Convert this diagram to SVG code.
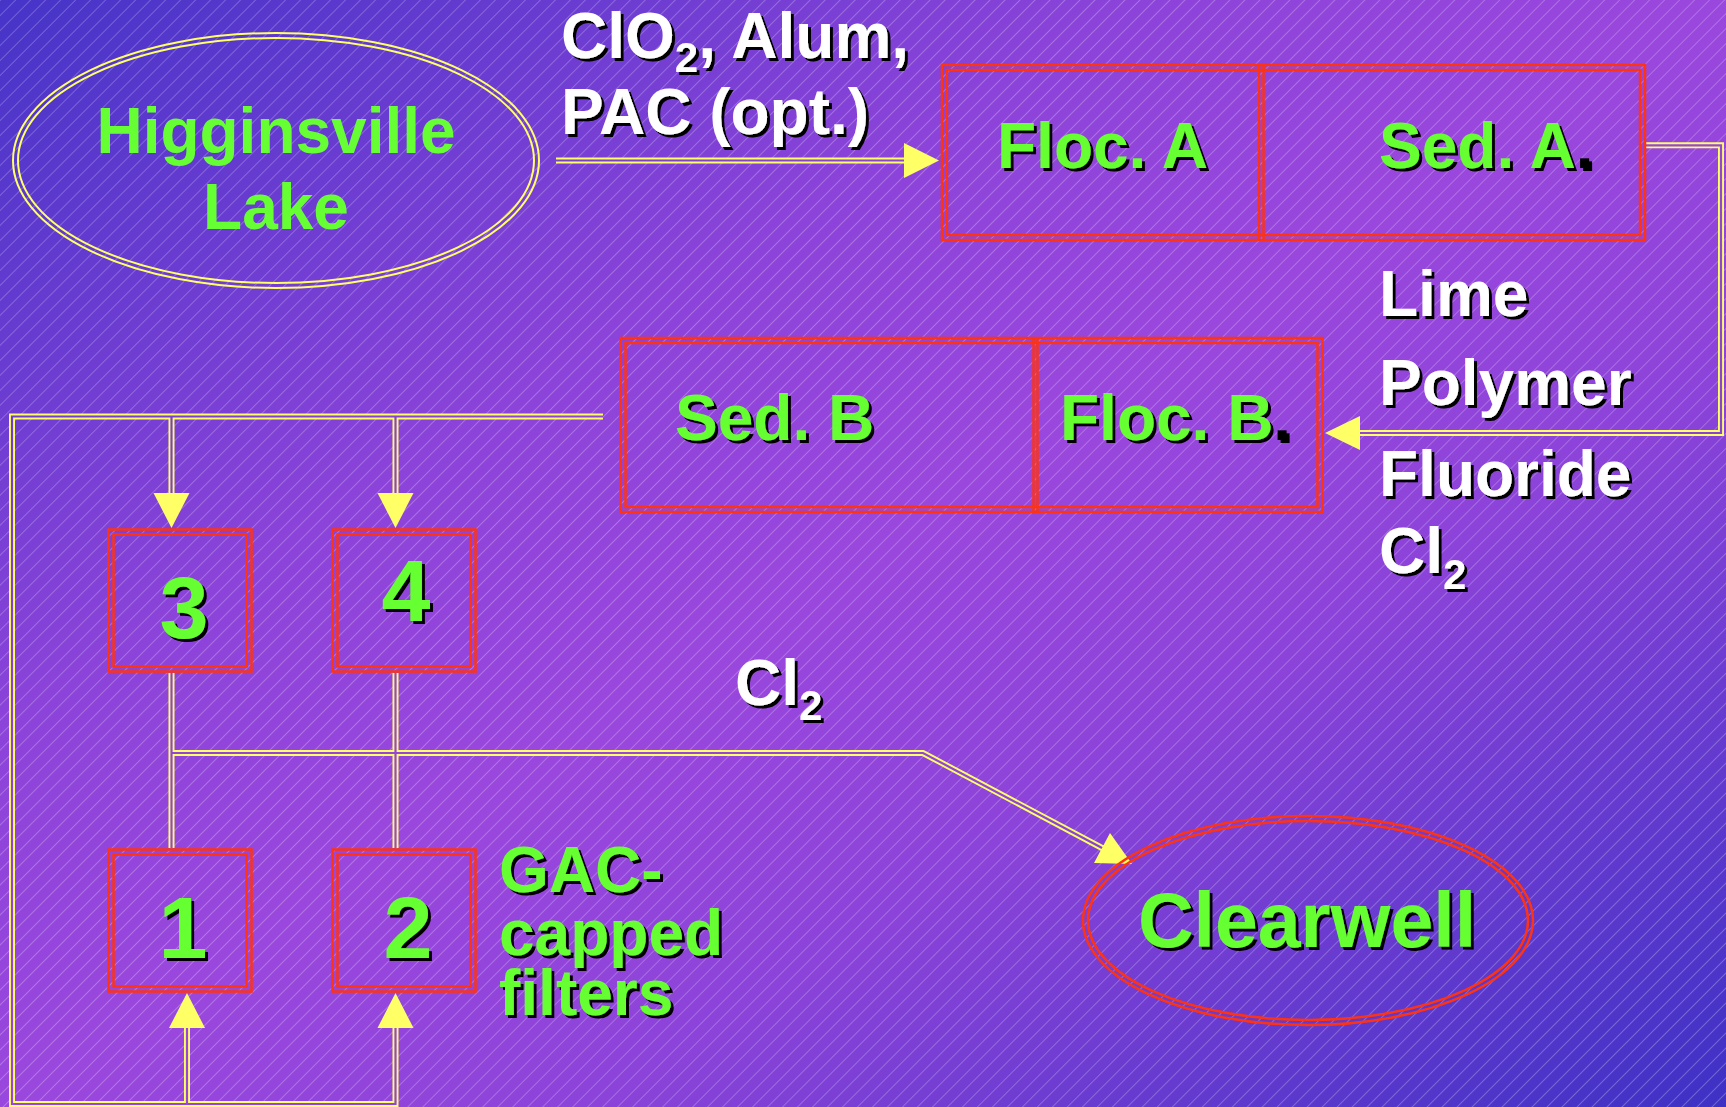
<svg xmlns="http://www.w3.org/2000/svg" width="1726" height="1107" viewBox="0 0 1726 1107">
<defs>
  <linearGradient id="bg" gradientUnits="userSpaceOnUse" x1="360" y1="-231" x2="1366" y2="1338">
    <stop offset="0" stop-color="#4634c8"/>
    <stop offset="0.33" stop-color="#8c43d9"/>
    <stop offset="0.5" stop-color="#9a47dd"/>
    <stop offset="0.67" stop-color="#8c43d9"/>
    <stop offset="1" stop-color="#3d31c4"/>
  </linearGradient>
  <pattern id="st" width="10.6" height="20" patternUnits="userSpaceOnUse" patternTransform="rotate(45)">
    <line x1="0.5" y1="0" x2="0.5" y2="20" stroke="#ffffff" stroke-opacity="0.28" stroke-width="0.9"/>
  </pattern>
  <filter id="sh" x="-10%" y="-20%" width="130%" height="150%">
    <feOffset in="SourceAlpha" dx="3" dy="3" result="o"/>
    <feMerge><feMergeNode in="o"/><feMergeNode in="SourceGraphic"/></feMerge>
  </filter>
  <path id="p1" d="M556,160.5 H905"/>
  <path id="p2" d="M1646,145.3 H1721 V433 H1360"/>
  <path id="p3" d="M603,416.5 H12 V1104 H395.5 V1028 M171.5,416.5 V494 M395.5,416.5 V494 M187,1104 V1028"/>
  <path id="p4" d="M171.5,673 V848 M395.5,673 V848 M171.5,753 H923 L1103,848.5"/>
</defs>
<style>
  .lbl{font-family:"Liberation Sans",Arial,sans-serif;font-weight:bold;font-size:64px}
  .w{fill:#ffffff;filter:url(#sh)}
  .g{fill:#66ff33;filter:url(#sh)}
  .gn{fill:#66ff33}
  .num{font-size:88px;text-anchor:middle}
  .big{font-size:77px;text-anchor:middle}
  .r{fill:none;stroke:#ff3311;stroke-width:2.5}
  .ye{fill:none;stroke:#ffff66;stroke-width:2}
  .y{fill:none;stroke:#ffff66;stroke-width:6;stroke-linejoin:miter}
  .gap{fill:none;stroke:url(#bg);stroke-width:2.2;stroke-linejoin:miter}
  .ah{fill:#ffff66}
</style>
<rect width="1726" height="1107" fill="url(#bg)"/>
<rect width="1726" height="1107" fill="url(#st)"/>

<g id="connectors">
  <use href="#p1" class="y"/>
  <use href="#p2" class="y"/>
  <use href="#p3" class="y"/>
  <use href="#p4" class="y"/>
  <use href="#p1" class="gap"/>
  <use href="#p2" class="gap"/>
  <use href="#p3" class="gap"/>
  <use href="#p4" class="gap"/>
  <polygon class="ah" points="904,143 939,160.5 904,178"/>
  <polygon class="ah" points="1360,416 1325,433 1360,450"/>
  <polygon class="ah" points="153.5,493 171.5,528 189.5,493"/>
  <polygon class="ah" points="377.5,493 395.5,528 413.5,493"/>
  <polygon class="ah" points="169,1028 187,993 205,1028"/>
  <polygon class="ah" points="377.5,1028 395.5,993 413.5,1028"/>
  <polygon class="ah" points="1094,863 1110,833 1132,864"/>
</g>

<g id="lake">
  <ellipse class="ye" cx="276" cy="160.5" rx="263" ry="127.5"/>
  <ellipse class="ye" cx="276" cy="160.5" rx="258" ry="122.5"/>
  <text class="lbl gn" x="276" y="153" text-anchor="middle">Higginsville</text>
  <text class="lbl gn" x="276" y="229" text-anchor="middle">Lake</text>
</g>

<g id="tankA">
  <rect class="r" x="942" y="65" width="703" height="175"/>
  <rect class="r" x="947" y="70" width="693" height="165"/>
  <line class="r" x1="1259" y1="65" x2="1259" y2="240"/>
  <line class="r" x1="1263.5" y1="65" x2="1263.5" y2="240"/>
  <text class="lbl g" x="997" y="168">Floc. A</text>
  <text class="lbl g" x="1379" y="168">Sed. A<tspan fill="#000000">.</tspan></text>
</g>

<g id="tankB">
  <rect class="r" x="620.5" y="338" width="702" height="174"/>
  <rect class="r" x="625.5" y="343" width="692" height="164"/>
  <line class="r" x1="1033.5" y1="338" x2="1033.5" y2="512"/>
  <line class="r" x1="1037.5" y1="338" x2="1037.5" y2="512"/>
  <text class="lbl g" x="675" y="440">Sed. B</text>
  <text class="lbl g" x="1060" y="440">Floc. B<tspan fill="#000000">.</tspan></text>
</g>

<g id="filter3">
  <rect class="r" x="108.5" y="529.5" width="143" height="142"/>
  <rect class="r" x="113.5" y="534.5" width="133" height="132"/>
  <text class="lbl g num" x="184" y="638">3</text>
</g>
<g id="filter4">
  <rect class="r" x="332.5" y="529.5" width="143" height="142"/>
  <rect class="r" x="337.5" y="534.5" width="133" height="132"/>
  <text class="lbl g num" x="406" y="621">4</text>
</g>
<g id="filter1">
  <rect class="r" x="108.5" y="849.5" width="143" height="142"/>
  <rect class="r" x="113.5" y="854.5" width="133" height="132"/>
  <text class="lbl g num" x="183" y="958">1</text>
</g>
<g id="filter2">
  <rect class="r" x="332.5" y="849.5" width="143" height="142"/>
  <rect class="r" x="337.5" y="854.5" width="133" height="132"/>
  <text class="lbl g num" x="408" y="958">2</text>
</g>

<g id="clearwell">
  <ellipse class="r" cx="1308" cy="920.5" rx="225" ry="104.5"/>
  <ellipse class="r" cx="1308" cy="920.5" rx="220" ry="99.5"/>
  <text class="lbl g big" x="1307" y="947">Clearwell</text>
</g>

<g id="labels">
  <text class="lbl w" x="561" y="58">ClO<tspan font-size="42" dy="14">2</tspan><tspan dy="-14">, Alum,</tspan></text>
  <text class="lbl w" x="561" y="134">PAC (opt.)</text>
  <text class="lbl w" x="1379" y="316">Lime</text>
  <text class="lbl w" x="1379" y="405">Polymer</text>
  <text class="lbl w" x="1379" y="496">Fluoride</text>
  <text class="lbl w" x="1379" y="573">Cl<tspan font-size="42" dy="16">2</tspan></text>
  <text class="lbl w" x="735" y="705">Cl<tspan font-size="42" dy="15">2</tspan></text>
  <text class="lbl g" x="499" y="892">GAC-</text>
  <text class="lbl g" x="499" y="955">capped</text>
  <text class="lbl g" x="499" y="1015">filters</text>
</g>
</svg>
